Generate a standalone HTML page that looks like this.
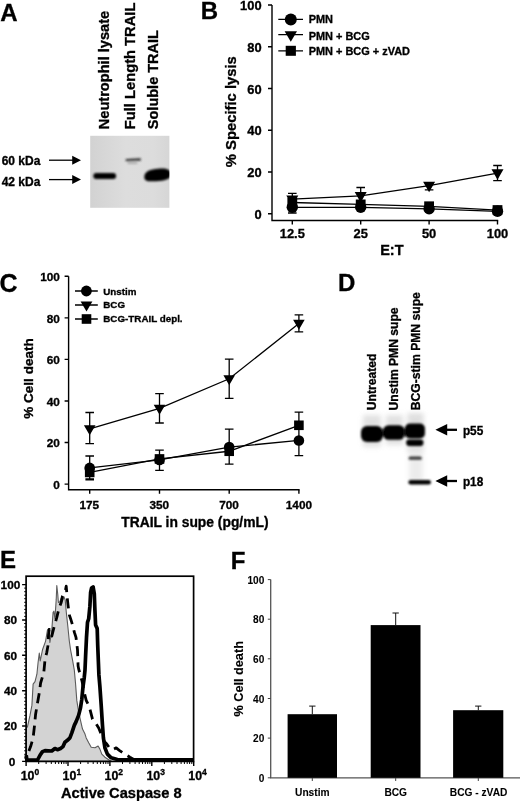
<!DOCTYPE html>
<html><head><meta charset="utf-8">
<style>
html,body{margin:0;padding:0;background:#fff;width:520px;height:801px;overflow:hidden;}
svg{display:block;will-change:transform;}
text{font-family:"Liberation Sans",sans-serif;font-weight:bold;fill:#000;stroke:#000;stroke-width:0.32px;}
.thin text{stroke-width:0.08px;}
.ax{stroke:#000;stroke-width:1.4;fill:none;}
.ln{stroke:#000;stroke-width:1.3;fill:none;}
.eb{stroke:#000;stroke-width:1.3;fill:none;}
.tk{font-size:12.9px;}.tkc{font-size:11.8px;}.pl{font-size:24px;}

</style></head><body>
<svg width="520" height="801" viewBox="0 0 520 801">
<defs>
<filter id="b1" x="-30%" y="-60%" width="160%" height="220%"><feGaussianBlur stdDeviation="1.1"/></filter>
<filter id="b2" x="-30%" y="-60%" width="160%" height="220%"><feGaussianBlur stdDeviation="1.6"/></filter>
<filter id="b3" x="-30%" y="-30%" width="160%" height="160%"><feGaussianBlur stdDeviation="2.5"/></filter>
<filter id="b08" x="-30%" y="-60%" width="160%" height="220%"><feGaussianBlur stdDeviation="0.8"/></filter>
<linearGradient id="blotA" x1="0" x2="1" y1="0" y2="0"><stop offset="0" stop-color="#d2d2d2"/><stop offset="0.45" stop-color="#dddddd"/><stop offset="0.8" stop-color="#dcdcdc"/><stop offset="1" stop-color="#d6d6d6"/></linearGradient>
<clipPath id="clipA"><rect x="90.2" y="135.8" width="79.2" height="72"/></clipPath>
<filter id="b05"><feGaussianBlur stdDeviation="0.5"/></filter>
</defs>
<rect width="520" height="801" fill="#fff"/>

<!-- ============ PANEL A ============ -->
<g id="pA">
<text class="pl" x="0.3" y="20.7">A</text>
<text font-size="14.6" transform="translate(108.8,129.2) rotate(-90)" textLength="118.3" lengthAdjust="spacingAndGlyphs">Neutrophil lysate</text>
<text font-size="14.6" transform="translate(134.5,129.2) rotate(-90)" textLength="126.6" lengthAdjust="spacingAndGlyphs">Full Length TRAIL</text>
<text font-size="14.6" transform="translate(158.1,129.2) rotate(-90)" textLength="99.2" lengthAdjust="spacingAndGlyphs">Soluble TRAIL</text>
<rect x="90.2" y="135.8" width="79.2" height="72" fill="url(#blotA)"/>
<g clip-path="url(#clipA)">
<g filter="url(#b1)">
<rect x="93.3" y="173.1" width="22.8" height="5.8" rx="2.9" fill="#000"/>
<rect x="125.5" y="158.6" width="15.5" height="2.4" rx="1.2" fill="#333" transform="rotate(-3 133 160)"/>
<rect x="127.5" y="162" width="10" height="2" rx="1" fill="#aaa"/>
<path d="M144.3,177.2 C144.3,171 151,169.300 158,168.8 C164,168 171,168.5 171,174 C171,179.500 164,181 156,181.200 C149,181.600 144.300,181.600 144.300,177.200Z" fill="#000"/>
</g>
</g>
<text font-size="12" x="1.7" y="164.6" textLength="38.7" lengthAdjust="spacingAndGlyphs">60 kDa</text>
<text font-size="12" x="1.7" y="185.9" textLength="38.7" lengthAdjust="spacingAndGlyphs">42 kDa</text>
<g stroke="#000" stroke-width="1.3"><line x1="49" y1="160.2" x2="74" y2="160.2"/><line x1="49" y1="179.6" x2="74" y2="179.6"/></g>
<path d="M81,160.2 L72.2,155.7 L72.2,164.7Z M81,179.6 L72.2,175.1 L72.2,184.1Z" fill="#000"/>
</g>

<!-- ============ PANEL B ============ -->
<g id="pB">
<text class="pl" x="200.8" y="19.3">B</text>
<path class="ax" d="M272,5 V220.500 H498.200"/>
<g class="ax">
<path d="M268,5H272 M268,46.800H272 M268,88.500H272 M268,130.300H272 M268,172H272 M268,213.800H272"/>
<path d="M292.300,220.500v4 M360.700,220.500v4 M429.100,220.500v4 M497.500,220.500v4"/>
</g>
<g class="tk" text-anchor="end">
<text x="261.6" y="9.9">100</text><text x="261.6" y="51.8">80</text><text x="261.6" y="93.5">60</text>
<text x="261.6" y="135.3">40</text><text x="261.6" y="177">20</text><text x="261.6" y="218.8">0</text>
</g>
<g class="tk" text-anchor="middle">
<text x="292.300" y="238.2">12.5</text><text x="360.700" y="238.2">25</text><text x="429.100" y="238.2">50</text><text x="497.500" y="238.2">100</text>
</g>
<text font-size="14.5" x="380.2" y="254.8">E:T</text>
<text font-size="14.9" transform="translate(236.1,167.2) rotate(-90)" textLength="111" lengthAdjust="spacingAndGlyphs">% Specific lysis</text>
<!-- legend -->
<g class="ln"><path d="M278.3,19.4H303 M278.3,34.7H303 M278.3,50.8H303"/></g>
<circle cx="290.8" cy="19.4" r="6"/>
<path d="M284.6,31.2 h12.4 l-6.2,10.5z"/>
<rect x="285.7" y="45.8" width="10.2" height="10"/>
<g font-size="10.95"><text x="308.7" y="23.2">PMN</text><text x="308.7" y="39.9">PMN + BCG</text><text x="308.7" y="55.3">PMN + BCG + zVAD</text></g>
<!-- data -->
<g class="eb"><path d="M292.30,193.30V199.18 M288.00,193.30h8.6 M292.30,207.33V213.00 M288.00,213.00h8.6 M360.70,187.50V195.84 M356.40,187.50h8.6 M429.10,182.00V189.80 M424.80,189.80h8.6 M497.50,165.50V180.60 M493.20,165.50h8.6 M493.20,180.60h8.6"/></g>
<g class="ln"><polyline points="292.30,199.18 360.70,195.84 429.10,185.61 497.50,173.08"/><polyline points="292.30,207.33 360.70,207.33 429.10,208.79 497.50,211.29"/><polyline points="292.30,202.52 360.70,204.40 429.10,206.28 497.50,210.04"/></g>
<g><path d="M286.30,195.44h12l-6.0,10.4z M354.70,192.10h12l-6.0,10.4z M423.10,181.87h12l-6.0,10.4z M491.50,169.34h12l-6.0,10.4z"/><rect x="287.40" y="197.62" width="9.8" height="9.8"/><rect x="355.80" y="199.50" width="9.8" height="9.8"/><rect x="424.20" y="201.38" width="9.8" height="9.8"/><rect x="492.60" y="205.14" width="9.8" height="9.8"/><circle cx="292.30" cy="207.33" r="5.7"/><circle cx="360.70" cy="207.33" r="5.7"/><circle cx="429.10" cy="208.79" r="5.7"/><circle cx="497.50" cy="211.29" r="5.7"/></g>
</g>

<!-- ============ PANEL C ============ -->
<g id="pC">
<text class="pl" style="font-size:25px" x="-0.6" y="291.9">C</text>
<path class="ax" d="M68.600,276.300 V489.700 H299.600"/>
<g class="ax">
<path d="M64.600,276.300H68.600 M64.600,317.900H68.600 M64.600,359.400H68.600 M64.600,401H68.600 M64.600,442.500H68.600 M64.600,484.100H68.600"/>
<path d="M89.7,489.7v4 M159.5,489.7v4 M229.2,489.7v4 M298.9,489.7v4"/>
</g>
<g class="tkc" text-anchor="end">
<text x="59.9" y="281.2">100</text><text x="59.9" y="322.7">80</text><text x="59.9" y="364.2">60</text>
<text x="59.9" y="405.8">40</text><text x="59.9" y="447.3">20</text><text x="59.9" y="488.9">0</text>
</g>
<g class="tkc" text-anchor="middle">
<text x="89.30" y="509.300">175</text><text x="159.30" y="509.300">350</text><text x="229.10" y="509.300">700</text><text x="298.90" y="509.300">1400</text>
</g>
<text font-size="13.9" x="121.2" y="527.3" textLength="147.4" lengthAdjust="spacingAndGlyphs">TRAIL in supe (pg/mL)</text>
<text font-size="13.6" transform="translate(32.9,418.7) rotate(-90)" textLength="80.4" lengthAdjust="spacingAndGlyphs">% Cell death</text>
<!-- legend -->
<g class="ln"><path d="M75,291H97.800 M75,305H97.800 M75,319H97.800"/></g>
<circle cx="86.4" cy="291" r="5.4"/>
<path d="M80.6,301.6 h11.8 l-5.9,10z"/>
<rect x="81.7" y="314.2" width="9.6" height="9.6"/>
<g font-size="9.8"><text x="103.3" y="294.8">Unstim</text><text x="103.3" y="308.2">BCG</text><text x="103.3" y="322.4">BCG-TRAIL depl.</text></g>
<!-- data -->
<g class="eb"><path d="M89.70,412.50V443.60 M85.40,412.50h8.6 M85.40,443.60h8.6 M159.50,393.60V423.00 M155.20,393.60h8.6 M155.20,423.00h8.6 M229.20,359.10V398.30 M224.90,359.10h8.6 M224.90,398.30h8.6 M298.90,314.80V331.80 M294.60,314.80h8.6 M294.60,331.80h8.6 M89.70,456.00V479.90 M85.40,456.00h8.6 M85.40,479.90h8.6 M159.50,450.10V470.40 M155.20,450.10h8.6 M155.20,470.40h8.6 M229.20,429.20V464.20 M224.90,429.20h8.6 M224.90,464.20h8.6 M298.90,440.45V455.60 M294.60,455.60h8.6 M89.70,472.45V478.90 M85.40,478.90h8.6 M298.90,412.10V425.28 M294.60,412.10h8.6 M298.90,425.28V440.45"/></g>
<g class="ln"><polyline points="89.70,428.81 159.50,408.45 229.20,378.73 298.90,323.46"/><polyline points="89.70,467.88 159.50,459.98 229.20,447.10 298.90,440.45"/><polyline points="89.70,472.45 159.50,458.94 229.20,451.25 298.90,425.28"/></g>
<g><path d="M83.90,425.21h11.6l-5.8,10z M153.70,404.85h11.6l-5.8,10z M223.40,375.13h11.6l-5.8,10z M293.10,319.86h11.6l-5.8,10z"/><rect x="84.90" y="467.65" width="9.6" height="9.6"/><rect x="154.70" y="454.14" width="9.6" height="9.6"/><rect x="224.40" y="446.45" width="9.6" height="9.6"/><rect x="294.10" y="420.48" width="9.6" height="9.6"/><circle cx="89.70" cy="467.88" r="5.3"/><circle cx="159.50" cy="459.98" r="5.3"/><circle cx="229.20" cy="447.10" r="5.3"/><circle cx="298.90" cy="440.45" r="5.3"/></g>
</g>

<!-- ============ PANEL D ============ -->
<g id="pD">
<text class="pl" x="338" y="291">D</text>
<g font-size="12">
<text transform="translate(375.8,410.2) rotate(-90)" textLength="56.6" lengthAdjust="spacingAndGlyphs">Untreated</text>
<text transform="translate(398.2,410.4) rotate(-90)" textLength="103" lengthAdjust="spacingAndGlyphs">Unstim PMN supe</text>
<text transform="translate(420.3,410.2) rotate(-90)" textLength="118" lengthAdjust="spacingAndGlyphs">BCG-stim PMN supe</text>
</g>
<g filter="url(#b3)" opacity="0.75">
<rect x="363" y="415" width="18" height="32" fill="#d8d8d8"/>
<rect x="386" y="415" width="17" height="30" fill="#d8d8d8"/>
<rect x="407.5" y="413" width="16" height="40" fill="#d4d4d4"/>
<rect x="409" y="450" width="14" height="32" fill="#e6e6e6"/>
</g>
<g filter="url(#b1)">
<rect x="366" y="428.5" width="52" height="8.500" fill="#555"/>
<rect x="361" y="426" width="21.8" height="16" rx="6" fill="#000"/>
<rect x="383.1" y="425.2" width="21.5" height="14.6" rx="5.5" fill="#000"/>
<rect x="404.9" y="423.6" width="20" height="14.900" rx="5" fill="#000"/>
<rect x="363" y="428" width="17.500" height="12" rx="4" fill="#000"/>
<rect x="385" y="427.2" width="17.500" height="10.6" rx="4" fill="#000"/>
<rect x="407" y="425.6" width="16" height="11" rx="4" fill="#000"/>
</g>
<g filter="url(#b08)">
<rect x="406.2" y="439.5" width="17.2" height="6.4" rx="2.8" fill="#000"/>
</g>
<g filter="url(#b1)">
<rect x="408.6" y="456.6" width="13.2" height="3.2" rx="1.6" fill="#3a3a3a"/>
<rect x="408.4" y="479.9" width="22.6" height="4.6" rx="2.3" fill="#000"/>
<rect x="410" y="480.8" width="14" height="3" rx="1.5" fill="#000"/>
</g>
<g stroke="#000" stroke-width="2.3"><line x1="444" y1="429.8" x2="457" y2="429.8"/><line x1="444" y1="481" x2="457" y2="481"/></g>
<path d="M435.4,429.8 L447.2,424 L447.2,435.6Z M435.4,481 L447.2,475.2 L447.2,486.8Z" fill="#000"/>
<text font-size="12.2" x="462.9" y="434.7" textLength="20.4" lengthAdjust="spacingAndGlyphs">p55</text>
<text font-size="12.2" x="462.9" y="485.9" textLength="20.4" lengthAdjust="spacingAndGlyphs">p18</text>
</g>

<!-- ============ PANEL E ============ -->
<g id="pE">
<text class="pl" x="-0.1" y="568.3">E</text>
<!-- gray filled histogram -->
<path d="M26.1,761.4 L26.1,728.5 L27.5,726.6 L30.0,715.4 L31.9,705.4 L33.1,684.2 L35.0,681.7 L36.9,674.2 L38.1,662.3 L39.3,653.0 L40.2,661.0 L42.5,649.8 L45.6,641.1 L47.5,629.9 L48.7,628.6 L49.9,642.4 L51.8,629.9 L53.1,612.4 L53.9,611.2 L54.9,618.7 L56.2,599.9 L56.8,585.6 L57.7,593.7 L58.4,602.4 L59.9,601.8 L61.2,598.1 L62.4,601.2 L63.9,596.8 L65.2,599.9 L66.2,611.2 L68.0,628.0 L69.3,641.0 L70.6,650.0 L72.5,659.8 L74.3,670.0 L75.5,683.0 L76.8,700.4 L78.6,711.7 L80.5,720.4 L82.5,729.1 L85.0,734.1 L86.2,737.9 L88.7,742.8 L91.2,747.2 L95.0,747.8 L98.1,746.0 L99.9,749.1 L101.8,754.1 L104.9,757.2 L108.7,759.7 L112.0,761.4 Z" fill="#d3d3d3" stroke="#5c5c5c" stroke-width="1.1" stroke-linejoin="round"/>
<!-- dashed -->
<path d="M27.3,755.3 L30.6,746.6 L33.1,737.9 L34.4,726.6 L35.6,714.2 L37.5,702.9 L39.3,692.9 L40.6,683.0 L42.5,676.7 L43.7,673.5 L45.0,659.8 L46.8,652.3 L48.1,644.9 L48.5,634.9 L49.3,629.3 L51.8,636.1 L54.3,626.1 L56.8,617.4 L57.7,613.7 L59.3,607.4 L61.2,602.4 L62.4,596.2 L63.7,593.7 L65.5,590.0 L66.2,586.2 L67.2,597.5 L68.0,604.9 L69.3,614.9 L70.6,618.7 L72.5,624.9 L74.4,632.4 L76.0,637.4 L77.5,649.8 L78.1,666.1 L78.7,669.2 L81.9,680.5 L84.4,692.9 L86.2,700.4 L89.3,706.7 L92.5,719.1 L95.6,722.9 L98.7,727.9 L101.2,734.1 L104.3,741.6 L106.8,744.1 L109.3,747.8 L112.4,749.7 L116.2,747.8 L119.3,750.3 L124.9,754.1 L129.9,757.2 L134.2,759.7" fill="none" stroke="#000" stroke-width="2.800" stroke-dasharray="10 6.3" stroke-dashoffset="11.8" stroke-linejoin="round"/>
<!-- solid thick -->
<path d="M26.2,755.3 L26.9,760.0 L37.5,760.0 L40.0,755.3 L42.5,751.6 L45.0,750.6 L51.8,751.0 L54.9,748.5 L57.4,749.7 L60.5,748.5 L63.0,746.6 L64.9,742.2 L67.4,740.3 L69.9,737.9 L71.8,732.9 L74.3,725.4 L76.1,721.6 L78.6,715.4 L80.5,707.9 L81.8,699.2 L83.0,686.7 L84.2,678.0 L85.0,670.0 L85.6,656.1 L86.5,637.4 L87.5,622.4 L88.7,618.7 L89.9,606.2 L90.6,592.5 L91.6,588.0 L93.1,586.9 L94.3,593.7 L94.9,609.9 L95.6,624.9 L97.2,628.6 L97.7,644.9 L98.4,662.3 L98.9,674.9 L99.9,686.7 L101.2,705.4 L102.4,724.1 L103.4,737.9 L104.9,747.8 L107.4,754.1 L111.2,757.8 L117.4,759.5 L135.0,759.8 L193.5,759.8" fill="none" stroke="#000" stroke-width="3.700" stroke-linejoin="round"/>
<rect x="26.1" y="576.2" width="167.5" height="185.2" fill="none" stroke="#000" stroke-width="1.7"/>
<g class="ax" stroke-width="1.3">
<path d="M22.1,761.4H26.1 M22.1,726.0H26.1 M22.1,690.7H26.1 M22.1,655.3H26.1 M22.1,620.0H26.1 M22.1,584.6H26.1"/>
<path d="M26.1,761.4v4.6 M68.0,761.4v4.6 M109.9,761.4v4.6 M151.8,761.4v4.6 M193.7,761.4v4.6"/>
</g>
<g stroke="#000" stroke-width="1" fill="none"><path d="M24.2,757.9H26.1 M24.2,754.3H26.1 M24.2,750.8H26.1 M24.2,747.3H26.1 M24.2,743.7H26.1 M24.2,740.2H26.1 M24.2,736.6H26.1 M24.2,733.1H26.1 M24.2,729.6H26.1 M24.2,722.5H26.1 M24.2,719.0H26.1 M24.2,715.4H26.1 M24.2,711.9H26.1 M24.2,708.4H26.1 M24.2,704.8H26.1 M24.2,701.3H26.1 M24.2,697.8H26.1 M24.2,694.2H26.1 M24.2,687.1H26.1 M24.2,683.6H26.1 M24.2,680.1H26.1 M24.2,676.5H26.1 M24.2,673.0H26.1 M24.2,669.5H26.1 M24.2,665.9H26.1 M24.2,662.4H26.1 M24.2,658.9H26.1 M24.2,651.8H26.1 M24.2,648.2H26.1 M24.2,644.7H26.1 M24.2,641.2H26.1 M24.2,637.6H26.1 M24.2,634.1H26.1 M24.2,630.6H26.1 M24.2,627.0H26.1 M24.2,623.5H26.1 M24.2,616.4H26.1 M24.2,612.9H26.1 M24.2,609.4H26.1 M24.2,605.8H26.1 M24.2,602.3H26.1 M24.2,598.7H26.1 M24.2,595.2H26.1 M24.2,591.7H26.1 M24.2,588.1H26.1"/><path d="M38.7,761.4v2.6 M46.1,761.4v2.6 M51.3,761.4v2.6 M55.4,761.4v2.6 M58.7,761.4v2.6 M61.5,761.4v2.6 M63.9,761.4v2.6 M66.1,761.4v2.6 M80.6,761.4v2.6 M88.0,761.4v2.6 M93.2,761.4v2.6 M97.3,761.4v2.6 M100.6,761.4v2.6 M103.4,761.4v2.6 M105.8,761.4v2.6 M108.0,761.4v2.6 M122.5,761.4v2.6 M129.9,761.4v2.6 M135.1,761.4v2.6 M139.2,761.4v2.6 M142.5,761.4v2.6 M145.3,761.4v2.6 M147.7,761.4v2.6 M149.9,761.4v2.6 M164.4,761.4v2.6 M171.8,761.4v2.6 M177.0,761.4v2.6 M181.1,761.4v2.6 M184.4,761.4v2.6 M187.2,761.4v2.6 M189.6,761.4v2.6 M191.8,761.4v2.6"/></g>
<g font-size="11.8" text-anchor="end">
<text x="20.3" y="588.8">100</text><text x="17" y="624.2">80</text><text x="17" y="659.5">60</text>
<text x="17" y="694.9">40</text><text x="17" y="730.2">20</text><text x="15.2" y="765.8">0</text>
</g>
<g font-size="12.4">
<text x="20.7" y="779.6">10<tspan font-size="8.5" dy="-4.6">0</tspan></text>
<text x="62.6" y="779.6">10<tspan font-size="8.5" dy="-4.6">1</tspan></text>
<text x="104.5" y="779.6">10<tspan font-size="8.5" dy="-4.6">2</tspan></text>
<text x="146.4" y="779.6">10<tspan font-size="8.5" dy="-4.6">3</tspan></text>
<text x="188.3" y="779.6">10<tspan font-size="8.5" dy="-4.6">4</tspan></text>
</g>
<text font-size="14.6" x="61" y="797.5" textLength="120.6" lengthAdjust="spacingAndGlyphs">Active Caspase 8</text>
</g>

<!-- ============ PANEL F ============ -->
<g id="pF">
<text class="pl" x="230.8" y="569">F</text>
<path d="M270.7,579.6 V777.8 H520" fill="none" stroke="#555" stroke-width="1.3"/>
<g stroke="#444" stroke-width="1" fill="none">
<path d="M267.800,579.600H270.7 M267.800,619.200H270.7 M267.800,658.800H270.7 M267.800,698.500H270.7 M267.800,738.100H270.7 M267.800,777.800H270.7"/>
<path d="M312.300,777.800v3.200 M395.700,777.800v3.200 M478.300,777.800v3.200"/>
</g>
<g font-size="10.1" text-anchor="end" class="thin">
<text x="264.300" y="583.6">100</text><text x="264.300" y="623.3">80</text><text x="264.300" y="662.9">60</text>
<text x="264.300" y="702.6">40</text><text x="264.300" y="742.2">20</text><text x="264.300" y="781.8">0</text>
</g>
<rect x="287.600" y="714.200" width="49.400" height="63.600"/>
<rect x="370.700" y="625.100" width="49.800" height="152.700"/>
<rect x="453.100" y="710.200" width="50.200" height="67.600"/>
<g stroke="#111" stroke-width="1" fill="none">
<path d="M312.300,714.200V706.100 M309.200,706.100h6.300"/>
<path d="M395.700,625.100V613 M392.500,613h6.300"/>
<path d="M478.300,710.200V706.100 M475.100,706.100h6.300"/>
</g>
<g font-size="10.2" text-anchor="middle" class="thin">
<text x="312.300" y="795.500">Unstim</text><text x="395.700" y="795.500">BCG</text><text x="478.600" y="795.500">BCG - zVAD</text>
</g>
<text font-size="12.500" style="stroke-width:0.12px" transform="translate(242.9,716.6) rotate(-90)" textLength="75.5" lengthAdjust="spacingAndGlyphs">% Cell death</text>
</g>
</svg>
</body></html>
